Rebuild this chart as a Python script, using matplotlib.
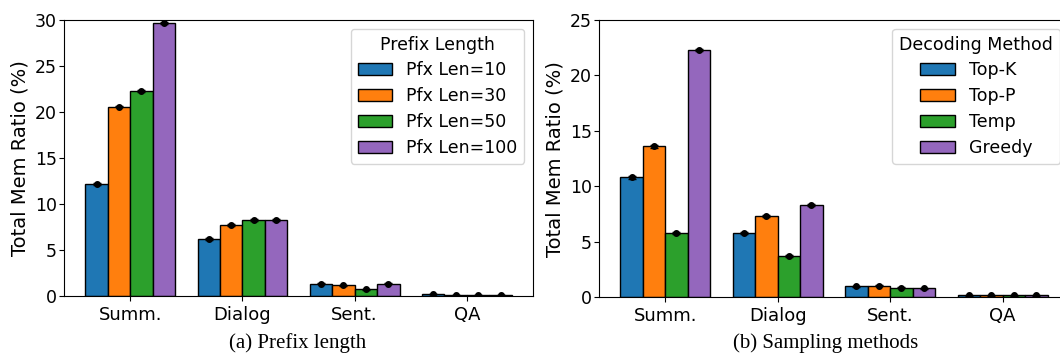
import numpy as np
import matplotlib
matplotlib.use("Agg")
import matplotlib.pyplot as plt

tasks = ["Summ.", "Dialog", "Sent.", "QA"]
colors = ["#1f77b4", "#ff7f0e", "#2ca02c", "#9467bd"]

pfx_labels = ["Pfx Len=10", "Pfx Len=30", "Pfx Len=50", "Pfx Len=100"]
pfx_len10 = [12.2, 6.2, 1.35, 0.2]
pfx_len30 = [20.6, 7.7, 1.15, 0.12]
pfx_len50 = [22.3, 8.3, 0.75, 0.15]
pfx_len100 = [29.7, 8.3, 1.35, 0.12]
pfx_err = [0.1, 0.1, 0.05, 0.02]

dec_labels = ["Top-K", "Top-P", "Temp", "Greedy"]
dec_topk = [10.8, 5.8, 1.0, 0.15]
dec_topp = [13.6, 7.3, 1.05, 0.15]
dec_temp = [5.8, 3.7, 0.85, 0.15]
dec_greedy = [22.3, 8.3, 0.8, 0.15]
dec_err = [0.1, 0.1, 0.05, 0.02]

captions = ["(a) Prefix length", "(b) Sampling methods"]


def draw(ax, series, labels, err, title, yticks):
    x = np.arange(len(tasks))
    w = 0.2
    for i, (vals, lab) in enumerate(zip(series, labels)):
        xs = x + (i - 1.5) * w
        ax.bar(xs, vals, w, color=colors[i], edgecolor="black", linewidth=1, label=lab)
        ax.errorbar(xs, vals, yerr=err, fmt="o", color="black", markersize=4,
                    capsize=3, elinewidth=1)
    ax.set_xticks(x)
    ax.set_xticklabels(tasks, fontsize=13)
    ax.set_yticks(yticks)
    ax.tick_params(axis="y", labelsize=12.5, pad=1.5)
    ax.set_ylim(0, yticks[-1])
    ax.set_ylabel("Total Mem Ratio (%)", fontsize=14)
    ax.legend(title=title, fontsize=12.5, title_fontsize=12.5, loc="upper right",
              labelspacing=0.45)


fig = plt.figure(figsize=(10.6, 3.58), dpi=100)
ax1 = fig.add_axes([0.0604, 0.173, 0.4425, 0.771])
ax2 = fig.add_axes([0.565, 0.170, 0.4434, 0.774])

draw(ax1, [pfx_len10, pfx_len30, pfx_len50, pfx_len100], pfx_labels, pfx_err,
     "Prefix Length", [0, 5, 10, 15, 20, 25, 30])
draw(ax2, [dec_topk, dec_topp, dec_temp, dec_greedy], dec_labels, dec_err,
     "Decoding Method", [0, 5, 10, 15, 20, 25])

fig.text(0.281, 0.028, captions[0], ha="center", fontsize=15, family="Liberation Serif")
fig.text(0.779, 0.028, captions[1], ha="center", fontsize=15, family="Liberation Serif")

fig.savefig("out.png", dpi=100)
